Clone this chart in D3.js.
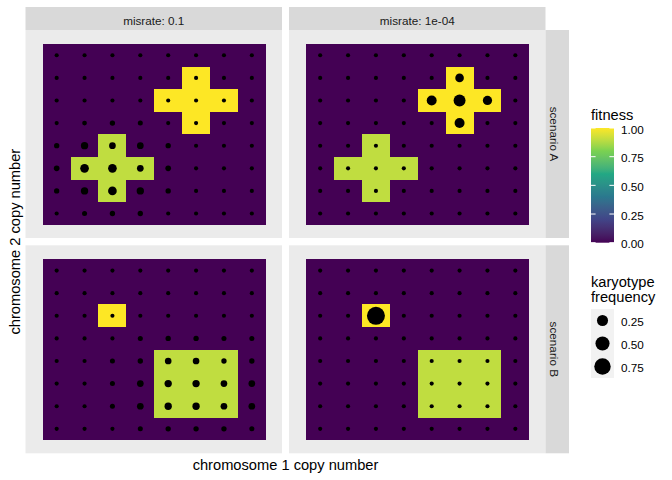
<!DOCTYPE html>
<html><head><meta charset="utf-8">
<script src="https://cdn.jsdelivr.net/npm/d3@7"></script>
<style>html,body{margin:0;padding:0;background:#fff;} svg{display:block;font-family:"Liberation Sans",Arial,sans-serif;}</style>
</head><body><svg id="chart" width="672" height="480"></svg>
<script>
// ---------------- data ----------------
const copyNumbers = [1, 2, 3, 4, 5, 6, 7, 8];
const misrates = ["0.1", "1e-04"];
const scenarios = ["A", "B"];
// fitness grids: rows chromosome 2 copy number 8 (top) .. 1 (bottom), columns chromosome 1 copy number 1..8
const fitnessA = [
  [0, 0, 0, 0, 0, 0, 0, 0],
  [0, 0, 0, 0, 0, 1, 0, 0],
  [0, 0, 0, 0, 1, 1, 1, 0],
  [0, 0, 0, 0, 0, 1, 0, 0],
  [0, 0, 0.9, 0, 0, 0, 0, 0],
  [0, 0.9, 0.9, 0.9, 0, 0, 0, 0],
  [0, 0, 0.9, 0, 0, 0, 0, 0],
  [0, 0, 0, 0, 0, 0, 0, 0]
];
const fitnessB = [
  [0, 0, 0, 0, 0, 0, 0, 0],
  [0, 0, 0, 0, 0, 0, 0, 0],
  [0, 0, 1, 0, 0, 0, 0, 0],
  [0, 0, 0, 0, 0, 0, 0, 0],
  [0, 0, 0, 0, 0.9, 0.9, 0.9, 0],
  [0, 0, 0, 0, 0.9, 0.9, 0.9, 0],
  [0, 0, 0, 0, 0.9, 0.9, 0.9, 0],
  [0, 0, 0, 0, 0, 0, 0, 0]
];
// karyotype frequencies, same layout
const freqA_01 = [
  [0.0005, 0.0005, 0.0005, 0.0005, 0.0005, 0.0005, 0.0005, 0.0005],
  [0.0005, 0.0005, 0.0005, 0.0005, 0.0005, 0.0005, 0.0005, 0.0005],
  [0.0005, 0.0005, 0.0005, 0.0005, 0.0005, 0.0005, 0.0005, 0.0005],
  [0.0005, 0.004, 0.011, 0.007, 0.0005, 0.0005, 0.0005, 0.0005],
  [0.011, 0.059, 0.039, 0.039, 0.011, 0.0005, 0.0005, 0.0005],
  [0.016, 0.112, 0.112, 0.039, 0.016, 0.0005, 0.0005, 0.0005],
  [0.011, 0.059, 0.112, 0.059, 0.011, 0.0005, 0.0005, 0.0005],
  [0.0005, 0.007, 0.011, 0.011, 0.0005, 0.0005, 0.0005, 0.0005]
];
const freqA_1e4 = [
  [0.0005, 0.0005, 0.0005, 0.0005, 0.0005, 0.0005, 0.0005, 0.0005],
  [0.0005, 0.0005, 0.0005, 0.0005, 0.0005, 0.11, 0.0005, 0.0005],
  [0.0005, 0.0005, 0.0005, 0.0005, 0.18, 0.31, 0.14, 0.0005],
  [0.0005, 0.0005, 0.0005, 0.0005, 0.0005, 0.18, 0.0005, 0.0005],
  [0.0005, 0.0005, 0.0005, 0.0005, 0.0005, 0.0005, 0.0005, 0.0005],
  [0.0005, 0.0005, 0.0005, 0.0005, 0.0005, 0.0005, 0.0005, 0.0005],
  [0.0005, 0.0005, 0.0005, 0.0005, 0.0005, 0.0005, 0.0005, 0.0005],
  [0.0005, 0.0005, 0.0005, 0.0005, 0.0005, 0.0005, 0.0005, 0.0005]
];
const freqB_01 = [
  [0.0005, 0.0005, 0.0005, 0.0005, 0.0005, 0.0005, 0.0005, 0.0005],
  [0.0005, 0.0005, 0.0005, 0.0005, 0.0005, 0.0005, 0.0005, 0.0005],
  [0.0005, 0.0005, 0.0005, 0.0005, 0.0005, 0.0005, 0.0005, 0.0005],
  [0.0005, 0.0005, 0.0005, 0.007, 0.011, 0.011, 0.007, 0.007],
  [0.0005, 0.0005, 0.007, 0.011, 0.039, 0.039, 0.011, 0.011],
  [0.0005, 0.0005, 0.007, 0.039, 0.059, 0.059, 0.039, 0.039],
  [0.0005, 0.0005, 0.007, 0.039, 0.059, 0.059, 0.039, 0.039],
  [0.0005, 0.0005, 0.0005, 0.007, 0.011, 0.011, 0.011, 0.007]
];
const freqB_1e4 = [
  [0.0005, 0.0005, 0.0005, 0.0005, 0.0005, 0.0005, 0.0005, 0.0005],
  [0.0005, 0.0005, 0.0005, 0.0005, 0.0005, 0.0005, 0.0005, 0.0005],
  [0.0005, 0.0005, 0.95, 0.0005, 0.0005, 0.0005, 0.0005, 0.0005],
  [0.0005, 0.0005, 0.0005, 0.0005, 0.0005, 0.0005, 0.0005, 0.0005],
  [0.0005, 0.0005, 0.0005, 0.0005, 0.0005, 0.0005, 0.0005, 0.0005],
  [0.0005, 0.0005, 0.0005, 0.0005, 0.0005, 0.0005, 0.0005, 0.0005],
  [0.0005, 0.0005, 0.0005, 0.0005, 0.0005, 0.0005, 0.0005, 0.0005],
  [0.0005, 0.0005, 0.0005, 0.0005, 0.0005, 0.0005, 0.0005, 0.0005]
];
const fitnessTicks = [0, 0.25, 0.5, 0.75, 1];
const freqBreaks = [0.25, 0.5, 0.75];
const viridisStops = ["#440154", "#414487", "#2A788E", "#22A884", "#7AD151", "#FDE725"];

// ---------------- layout ----------------
const svg = d3.select("#chart");
svg.append("rect").attr("width", 672).attr("height", 480).attr("fill", "#fff");

const colX = [25.5, 289], panelW = 256.5;
const rowY = [30, 245.3], panelH = 208;
const stripTop = 7, stripRightX = 545.5, stripW = 23.5;

const panels = [
  { r: 0, c: 0, fit: fitnessA, freq: freqA_01 },
  { r: 0, c: 1, fit: fitnessA, freq: freqA_1e4 },
  { r: 1, c: 0, fit: fitnessB, freq: freqB_01 },
  { r: 1, c: 1, fit: fitnessB, freq: freqB_1e4 }
];

const fillScale = d3.scaleLinear()
  .domain(viridisStops.map((d, i) => i / (viridisStops.length - 1)))
  .range(viridisStops)
  .interpolate(d3.interpolateLab);

const allFreq = panels.flatMap(p => p.freq.flat());
const rScale = d3.scaleSqrt().domain([0, d3.max(allFreq)]).range([1.9, 9]);

panels.forEach(p => {
  const x = d3.scaleLinear().domain([-0.1, 9.1]).range([colX[p.c] + 0.5, colX[p.c] + panelW + 0.5]);
  const y = d3.scaleLinear().domain([9.1, -0.1]).range([rowY[p.r] + 0.4, rowY[p.r] + panelH + 0.4]);
  const g = svg.append("g");
  g.append("rect").attr("x", colX[p.c]).attr("y", rowY[p.r])
    .attr("width", panelW).attr("height", panelH).attr("fill", "#EBEBEB");
  const cells = [];
  p.fit.forEach((row, i) => row.forEach((f, j) => {
    cells.push({ cx: copyNumbers[j], cy: copyNumbers[copyNumbers.length - 1 - i], fit: f, freq: p.freq[i][j] });
  }));
  g.selectAll("rect.tile").data(cells).join("rect").attr("class", "tile")
    .attr("x", d => x(d.cx - 0.5)).attr("y", d => y(d.cy + 0.5))
    .attr("width", d => x(d.cx + 0.5) - x(d.cx - 0.5))
    .attr("height", d => y(d.cy - 0.5) - y(d.cy + 0.5))
    .attr("fill", d => fillScale(d.fit))
    .attr("shape-rendering", "crispEdges");
  g.selectAll("circle").data(cells).join("circle")
    .attr("cx", d => x(d.cx)).attr("cy", d => y(d.cy))
    .attr("r", d => rScale(d.freq)).attr("fill", "#000");
});

// top strips
misrates.forEach((m, c) => {
  svg.append("rect").attr("x", colX[c]).attr("y", stripTop).attr("width", panelW)
    .attr("height", rowY[0] - stripTop).attr("fill", "#D9D9D9");
  svg.append("text").attr("x", colX[c] + panelW / 2).attr("y", 25)
    .attr("text-anchor", "middle").attr("font-size", "11.73px").attr("fill", "#1A1A1A")
    .text("misrate: " + m);
});
// right strips
scenarios.forEach((s, r) => {
  svg.append("rect").attr("x", stripRightX).attr("y", rowY[r]).attr("width", stripW)
    .attr("height", panelH).attr("fill", "#D9D9D9");
  svg.append("text").attr("transform", `translate(${stripRightX + 4.7},${rowY[r] + panelH / 2}) rotate(90)`)
    .attr("text-anchor", "middle").attr("font-size", "11.73px").attr("fill", "#1A1A1A")
    .text("scenario " + s);
});

// axis titles
svg.append("text").attr("x", (colX[0] + colX[1] + panelW) / 2).attr("y", 470)
  .attr("text-anchor", "middle").attr("font-size", "14.67px").attr("fill", "#000")
  .text("chromosome 1 copy number");
svg.append("text").attr("transform", `translate(20,${(rowY[0] + rowY[1] + panelH) / 2}) rotate(-90)`)
  .attr("text-anchor", "middle").attr("font-size", "14.67px").attr("fill", "#000")
  .text("chromosome 2 copy number");

// ---------------- legends ----------------
const legX = 591, keyW = 23;
svg.append("text").attr("x", legX).attr("y", 120).attr("font-size", "14.67px").text("fitness");
const barScale = d3.scaleLinear().domain([0, 1]).range([242.7, 128]);
const grad = svg.append("defs").append("linearGradient").attr("id", "fitgrad")
  .attr("x1", 0).attr("y1", 1).attr("x2", 0).attr("y2", 0);
d3.range(0, 1.0001, 0.02).forEach(t => {
  grad.append("stop").attr("offset", t).attr("stop-color", fillScale(t));
});
svg.append("rect").attr("x", legX).attr("y", barScale(1)).attr("width", keyW)
  .attr("height", barScale(0) - barScale(1)).attr("fill", "url(#fitgrad)");
fitnessTicks.forEach(t => {
  const yy = barScale(t);
  svg.append("line").attr("x1", legX).attr("x2", legX + 4.6).attr("y1", yy).attr("y2", yy)
    .attr("stroke", "#fff").attr("stroke-width", 1);
  svg.append("line").attr("x1", legX + keyW - 4.6).attr("x2", legX + keyW).attr("y1", yy).attr("y2", yy)
    .attr("stroke", "#fff").attr("stroke-width", 1);
  svg.append("text").attr("x", 621).attr("y", yy + 5.5).attr("font-size", "11.73px")
    .text(d3.format(".2f")(t));
});

svg.append("text").attr("x", legX).attr("y", 287).attr("font-size", "14.67px").text("karyotype");
svg.append("text").attr("x", legX).attr("y", 301.5).attr("font-size", "14.67px").text("frequency");
const keyTop = 309, keyH = 23;
freqBreaks.forEach((v, i) => {
  const ky = keyTop + i * keyH;
  svg.append("rect").attr("x", legX).attr("y", ky).attr("width", keyW).attr("height", keyH).attr("fill", "#F2F2F2");
  svg.append("circle").attr("cx", legX + keyW / 2).attr("cy", ky + keyH / 2).attr("r", rScale(v)).attr("fill", "#000");
  svg.append("text").attr("x", 621).attr("y", ky + keyH / 2 + 5.5).attr("font-size", "11.73px")
    .text(d3.format(".2f")(v));
});
</script></body></html>
